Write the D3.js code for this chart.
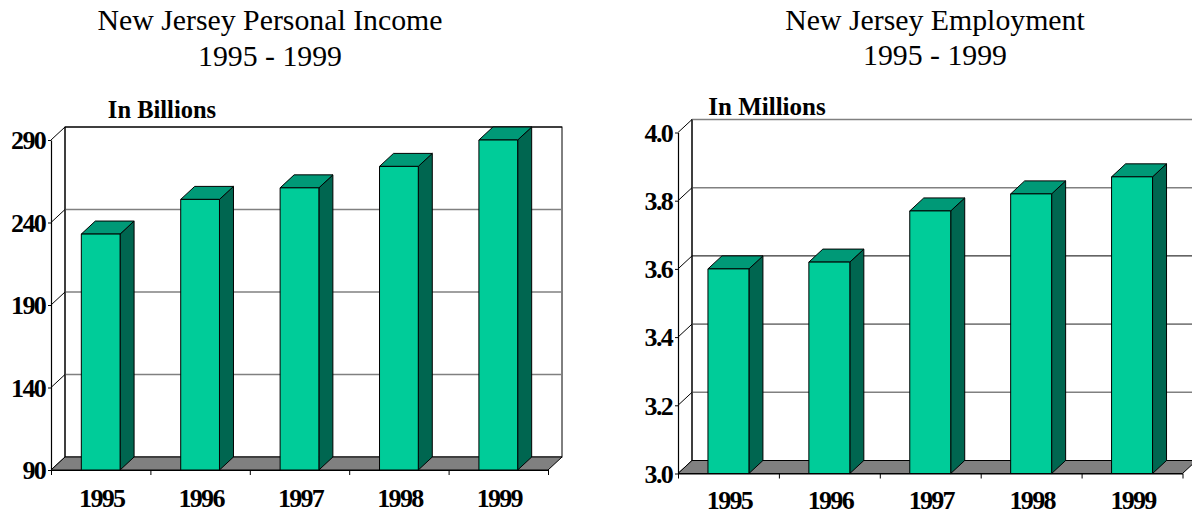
<!DOCTYPE html>
<html>
<head>
<meta charset="utf-8">
<script src="https://cdn.jsdelivr.net/npm/d3@7"></script>
<style>
  body { margin: 0; background: #fff; }
  svg { display: block; }
</style>
</head>
<body>
<svg id="chart" width="1192" height="515"></svg>
<script>
// ---- data ----
const years = ["1995", "1996", "1997", "1998", "1999"];
const incomeBillions = [233, 254, 261, 274, 290];
const incomeTicks = [90, 140, 190, 240, 290];
const employmentMillions = [3.60, 3.62, 3.77, 3.82, 3.87];
const employmentTicks = [3.0, 3.2, 3.4, 3.6, 3.8, 4.0];

// ---- look ----
const DX = 14, DY = -13;               // 3-D depth offset
const FRONT = "#00CC99", SIDE = "#006650", TOP = "#009977";
const FLOOR = "#808080", GRID = "#808080";
const SERIF = "'Liberation Serif', 'Times New Roman', serif";

const svg = d3.select("#chart");

function drawChart(cfg) {
  const g = svg.append("g");
  const [ymin, ymax] = cfg.domain;

  const x = d3.scaleBand()
    .domain(cfg.categories)
    .range([cfg.x0, cfg.x1])
    .paddingInner(cfg.pad)
    .paddingOuter(cfg.pad / 2);
  const y = d3.scaleLinear().domain(cfg.domain).range([cfg.yBase, cfg.yTop]);
  // index scale for the category boundary ticks
  const xi = d3.scaleLinear().domain([0, cfg.categories.length]).range([cfg.x0, cfg.x1]);

  // titles
  cfg.title.forEach((line, i) => {
    g.append("text")
      .attr("x", cfg.titleX).attr("y", cfg.titleY[i])
      .attr("text-anchor", "middle")
      .attr("font-family", SERIF).attr("font-size", 29.8)
      .text(line);
  });
  g.append("text")
    .attr("x", cfg.unitX).attr("y", cfg.unitY)
    .attr("text-anchor", "middle")
    .attr("font-family", SERIF).attr("font-weight", "bold").attr("font-size", cfg.unitSize)
    .text(cfg.unit);

  // back wall
  const bx0 = cfg.x0 + DX, bx1 = cfg.x1 + DX;
  g.append("rect")
    .attr("x", bx0).attr("y", y(ymax) + DY)
    .attr("width", bx1 - bx0).attr("height", y(ymin) - y(ymax))
    .attr("fill", "#fff").attr("stroke", "#000").attr("stroke-width", 1);

  // gridlines on the back wall
  cfg.ticks.filter(t => t > ymin).forEach(t => {
    const isTop = t === ymax;
    const dark = cfg.darkGrid !== undefined && Math.abs(t - cfg.darkGrid) < 1e-9;
    g.append("line")
      .attr("x1", bx0).attr("x2", bx1)
      .attr("y1", y(t) + DY).attr("y2", y(t) + DY)
      .attr("stroke", isTop ? cfg.topEdge : (dark ? "#000" : GRID))
      .attr("stroke-width", dark || (isTop && cfg.topEdge === "#000") ? 1 : 1.6);
  });

  // side wall: connectors from front ticks to back wall
  cfg.ticks.forEach(t => {
    g.append("line")
      .attr("x1", cfg.x0).attr("y1", y(t))
      .attr("x2", bx0).attr("y2", y(t) + DY)
      .attr("stroke", "#000").attr("stroke-width", 1);
  });
  g.append("line")
    .attr("x1", bx0).attr("x2", bx0)
    .attr("y1", y(ymax) + DY).attr("y2", y(ymin) + DY)
    .attr("stroke", "#000").attr("stroke-width", 1);

  // floor
  g.append("path")
    .attr("d", `M${cfg.x0},${y(ymin)} L${cfg.x1},${y(ymin)} L${bx1},${y(ymin) + DY} L${bx0},${y(ymin) + DY} Z`)
    .attr("fill", FLOOR).attr("stroke", "#000").attr("stroke-width", 1)
    .attr("stroke-linejoin", "round");

  // bars
  const bw = x.bandwidth();
  cfg.values.forEach((v, i) => {
    const xl = x(cfg.categories[i]), xr = xl + bw;
    const yt = y(v), yb = y(ymin);
    const bar = g.append("g").attr("stroke", "#000").attr("stroke-width", 1).attr("stroke-linejoin", "round");
    bar.append("path")
      .attr("d", `M${xr},${yt} L${xr + DX},${yt + DY} L${xr + DX},${yb + DY} L${xr},${yb} Z`)
      .attr("fill", SIDE);
    bar.append("path")
      .attr("d", `M${xl},${yt} L${xr},${yt} L${xr + DX},${yt + DY} L${xl + DX},${yt + DY} Z`)
      .attr("fill", TOP);
    bar.append("rect")
      .attr("x", xl).attr("y", yt).attr("width", bw).attr("height", yb - yt)
      .attr("fill", FRONT);
  });

  // value axis
  const yAxis = g.append("g")
    .attr("transform", `translate(${cfg.x0},0)`)
    .call(d3.axisLeft(y).tickValues(cfg.ticks).tickSize(3).tickSizeOuter(0).tickPadding(3)
      .tickFormat(cfg.tickFormat));
  yAxis.select(".domain").attr("stroke", "#000").attr("stroke-width", 1.2);
  yAxis.selectAll(".tick line").attr("stroke", "#000");
  yAxis.selectAll(".tick text")
    .attr("font-family", SERIF).attr("font-weight", "bold").attr("font-size", 26)
    .attr("letter-spacing", -1.7).attr("fill", "#000").attr("dy", "0.34em");

  // category axis: ticks on the band boundaries
  const xAxis = g.append("g")
    .attr("transform", `translate(0,${y(ymin)})`)
    .call(d3.axisBottom(xi).tickValues(d3.range(cfg.categories.length + 1)).tickSize(5)
      .tickSizeOuter(0).tickFormat(""));
  xAxis.select(".domain").attr("stroke", "#000").attr("stroke-width", 1.2);
  xAxis.selectAll(".tick line").attr("stroke", "#000");

  // category labels
  g.selectAll("text.cat").data(cfg.categories).join("text")
    .attr("class", "cat")
    .attr("x", d => x(d) + bw / 2 + 1).attr("y", cfg.labelY)
    .attr("text-anchor", "middle")
    .attr("font-family", SERIF).attr("font-weight", "bold").attr("font-size", 26)
    .attr("letter-spacing", -1.7)
    .text(d => d);
}

drawChart({
  categories: years, values: incomeBillions, ticks: incomeTicks,
  domain: [90, 290], tickFormat: d3.format("d"),
  x0: 51, x1: 548, yBase: 470, yTop: 140, pad: 0.61,
  title: ["New Jersey Personal Income", "1995 - 1999"], titleX: 270, titleY: [30, 66],
  unit: "In Billions", unitX: 162, unitY: 118, unitSize: 24.5,
  labelY: 507, topEdge: "#000"
});

drawChart({
  categories: years, values: employmentMillions, ticks: employmentTicks,
  domain: [3.0, 4.0], tickFormat: d3.format(".1f"),
  x0: 678, x1: 1182.5, yBase: 473.5, yTop: 132.5, pad: 0.594,
  title: ["New Jersey Employment", "1995 - 1999"], titleX: 935, titleY: [30, 65],
  unit: "In Millions", unitX: 767, unitY: 115, unitSize: 25,
  labelY: 509, topEdge: GRID, darkGrid: 3.6
});
</script>
</body>
</html>
